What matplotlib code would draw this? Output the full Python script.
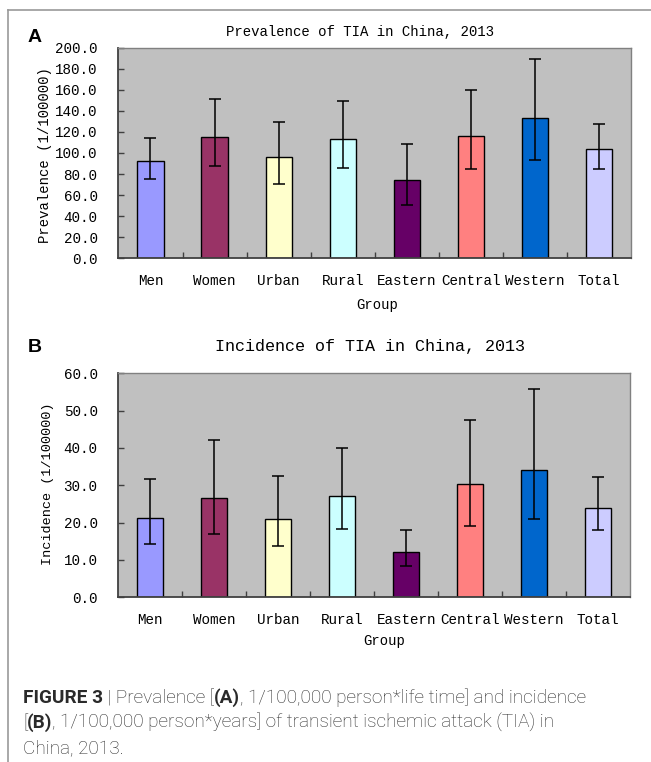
import matplotlib
matplotlib.use("Agg")
import matplotlib.pyplot as plt
import numpy as np
from matplotlib.lines import Line2D

# ---------------- data ----------------
groups = ["Men", "Women", "Urban", "Rural", "Eastern", "Central", "Western", "Total"]
bar_colors = ["#9999FF", "#993366", "#FFFFCC", "#CCFFFF", "#660066", "#FF8080", "#0066CC", "#CCCCFF"]

prevalence = [92.8, 115.0, 95.8, 113.2, 74.5, 116.5, 133.0, 103.6]
prev_low = [75.3, 88.0, 70.6, 85.8, 50.6, 85.1, 93.0, 84.5]
prev_high = [114.6, 151.6, 129.1, 149.4, 108.5, 159.8, 189.2, 127.8]

incidence = [21.3, 26.7, 21.1, 27.2, 12.1, 30.3, 34.2, 23.8]
inc_low = [14.4, 17.0, 13.8, 18.3, 8.4, 19.2, 21.0, 17.9]
inc_high = [31.6, 42.0, 32.4, 40.0, 18.0, 47.5, 55.7, 32.2]

prev_ticks = [0, 20, 40, 60, 80, 100, 120, 140, 160, 180, 200]
inc_ticks = [0, 10, 20, 30, 40, 50, 60]

# ---------------- layout ----------------
W, H = 651, 762
fig = plt.figure(figsize=(W / 100, H / 100), dpi=100)
MONO = "Liberation Mono"


def fx(x):
    return x / W


def fy(y):
    return 1 - y / H


def panel(box, vals, lo, hi, ticks, tick_fs):
    x0, y0, x1, y1 = box
    ax = fig.add_axes([fx(x0), fy(y1), (x1 - x0) / W, (y1 - y0) / H])
    ax.set_facecolor("#C0C0C0")
    x = np.arange(len(groups))
    vals = np.array(vals)
    ax.bar(x, vals, width=0.41, color=bar_colors, edgecolor="black", linewidth=1.0, zorder=2)
    yerr = [vals - np.array(lo), np.array(hi) - vals]
    ax.errorbar(x, vals, yerr=yerr, fmt="none", ecolor="black", elinewidth=1.1,
                capsize=4, capthick=1.1, zorder=3)
    ax.set_xlim(-0.5, len(groups) - 0.5)
    ax.set_ylim(ticks[0], ticks[-1])
    ax.set_yticks(ticks)
    ax.set_yticklabels([f"{t:.1f}" for t in ticks], fontfamily=MONO, fontsize=tick_fs)
    ax.set_xticks(np.arange(0.5, len(groups) - 1, 1))
    ax.set_xticklabels([])
    ax.set_xticks(x, minor=True)
    ax.set_xticklabels(groups, minor=True, fontfamily=MONO, fontsize=tick_fs)
    ax.tick_params(axis="x", which="major", direction="in", length=4, width=1, color="#404040")
    ax.tick_params(axis="x", which="minor", length=0, pad=11)
    ax.tick_params(axis="y", direction="in", length=4, width=1, color="#404040", pad=15)
    for s in ["top", "right"]:
        ax.spines[s].set_color("#808080")
        ax.spines[s].set_linewidth(1.0)
    for s in ["left", "bottom"]:
        ax.spines[s].set_color("#404040")
        ax.spines[s].set_linewidth(1.3)
    return ax


axA = panel((118.4, 47.7, 631.2, 258.3), prevalence, prev_low, prev_high, prev_ticks, 10.3)
axB = panel((118.4, 373.3, 630.0, 597.3), incidence, inc_low, inc_high, inc_ticks, 10.3)

# titles and labels
fig.text(fx(360), fy(32), "Prevalence of TIA in China, 2013", fontfamily=MONO, fontsize=10.1,
         ha="center", va="center")
fig.text(fx(370), fy(347), "Incidence of TIA in China, 2013", fontfamily=MONO, fontsize=12.1,
         ha="center", va="center")
fig.text(fx(45), fy(155), "Prevalence (1/100000)", fontfamily=MONO, fontsize=10,
         rotation=90, ha="center", va="center")
fig.text(fx(48), fy(484), "Incidence (1/100000)", fontfamily=MONO, fontsize=9.7,
         rotation=90, ha="center", va="center")
fig.text(fx(377), fy(305), "Group", fontfamily=MONO, fontsize=10, ha="center", va="center")
fig.text(fx(384), fy(641), "Group", fontfamily=MONO, fontsize=10, ha="center", va="center")

fig.text(fx(28), fy(42), "A", fontfamily="Liberation Sans", fontweight="bold", fontsize=14,
         ha="left", va="baseline")
fig.text(fx(28), fy(352), "B", fontfamily="Liberation Sans", fontweight="bold", fontsize=14,
         ha="left", va="baseline")

# frame
fig.add_artist(Line2D([fx(8), 1], [fy(10), fy(10)], color="#999999", lw=1.2, transform=fig.transFigure))
fig.add_artist(Line2D([fx(8), fx(8)], [fy(10), 0], color="#999999", lw=1.2, transform=fig.transFigure))

# caption with mixed weights
renderer = fig.canvas.get_renderer()
CAP = dict(fontfamily="Roboto", fontsize=13.7, color="#2a2a2a")


def seg_width(s, weight):
    t1 = fig.text(0, 0, "|" + s + "|", fontweight=weight, **CAP)
    t2 = fig.text(0, 0, "||", fontweight=weight, **CAP)
    w = t1.get_window_extent(renderer).width - t2.get_window_extent(renderer).width
    t1.remove()
    t2.remove()
    return w


def draw_line(segments, x, y):
    for s, weight in segments:
        fig.text(fx(x), fy(y), s, fontweight=weight, ha="left", va="baseline", **CAP)
        x += seg_width(s, weight)


caption = [
    [("FIGURE 3", "bold"), (" | Prevalence [", "light"), ("(A)", "bold"),
     (", 1/100,000 person*life time] and incidence", "light")],
    [("[", "light"), ("(B)", "bold"),
     (", 1/100,000 person*years] of transient ischemic attack (TIA) in", "light")],
    [("China, 2013.", "light")],
]
for i, line in enumerate(caption):
    draw_line(line, 23, 703 + 25 * i)

fig.savefig("out.png", dpi=100)
